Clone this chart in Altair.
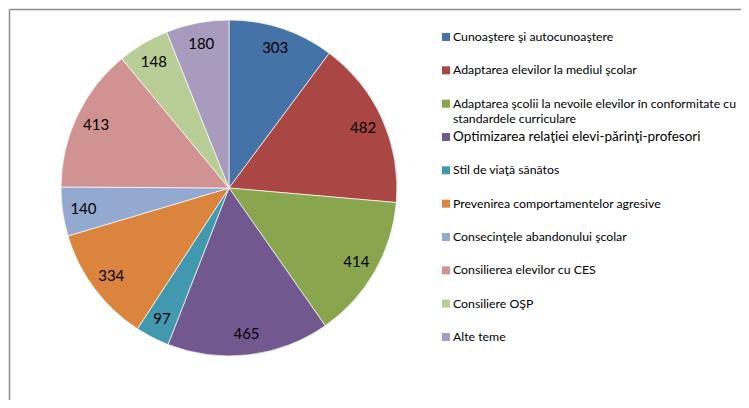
import altair as alt
import pandas as pd

categories = [
    "Cunoaştere şi autocunoaştere",
    "Adaptarea elevilor la mediul şcolar",
    "Adaptarea şcolii la nevoile elevilor în conformitate cu\nstandardele curriculare",
    "Optimizarea relaţiei elevi-părinţi-profesori",
    "Stil de viaţă sănătos",
    "Prevenirea comportamentelor agresive",
    "Consecinţele abandonului şcolar",
    "Consilierea elevilor cu CES",
    "Consiliere OŞP",
    "Alte teme",
]
values = [303, 482, 414, 465, 97, 334, 140, 413, 148, 180]
colors = ["#4572A7", "#AA4643", "#89A54E", "#71588F", "#4198AF",
          "#DB843D", "#93A9CF", "#D19392", "#B9CD96", "#A99BBD"]

df = pd.DataFrame({"cat": categories, "val": values, "idx": list(range(len(values)))})

color = alt.Color("cat:N", scale=alt.Scale(domain=categories, range=colors), legend=None)
cx, cy = 221, 180

base = alt.Chart(df)

pie = base.mark_arc(outerRadius=168, stroke="white", strokeWidth=0.7).encode(
    theta=alt.Theta("val:Q", stack=True),
    color=color,
    order=alt.Order("idx:Q"),
    x=alt.value(cx), y=alt.value(cy),
)

labels = base.mark_text(radius=147, font="Lato", fontSize=15, color="#000000").encode(
    theta=alt.Theta("val:Q", stack=True),
    order=alt.Order("idx:Q"),
    text=alt.Text("val:Q"),
    x=alt.value(cx), y=alt.value(cy),
)

yscale = alt.Scale(domain=[0, 9], range=[29, 329])

leg_sq = base.mark_square(size=64, opacity=1).encode(
    x=alt.value(438),
    y=alt.Y("idx:Q", scale=yscale, axis=None),
    color=color,
)

leg_txt = base.mark_text(align="left", baseline="alphabetic", dy=4, lineBreak="\n",
                         lineHeight=15, font="Lato", color="#000000").encode(
    x=alt.value(445),
    y=alt.Y("idx:Q", scale=yscale, axis=None),
    text="cat:N",
    size=alt.condition("datum.idx == 3", alt.value(13.5), alt.value(12.3)),
)

top_line = alt.Chart(pd.DataFrame({"a": [0]})).mark_rule(color="#8c8c8c", strokeWidth=1.5).encode(
    x=alt.value(1.5), x2=alt.value(733), y=alt.value(1.5)
)
left_line = alt.Chart(pd.DataFrame({"a": [0]})).mark_rule(color="#8c8c8c", strokeWidth=1.5).encode(
    x=alt.value(1.5), y=alt.value(1.5), y2=alt.value(392)
)

chart = alt.layer(pie, labels, leg_sq, leg_txt, top_line, left_line).properties(
    width=733, height=392, padding=0, autosize=alt.AutoSizeParams(type="none")
).configure_view(stroke=None)

chart.save("out.html", embed_options={"renderer": "svg", "actions": False})
